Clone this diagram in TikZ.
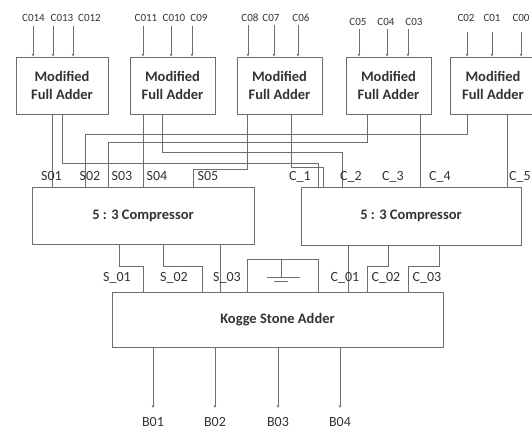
\documentclass[tikz,border=0pt]{standalone}
\usepackage{fontspec}
\setmainfont{Carlito}
\usetikzlibrary{arrows.meta}
\definecolor{wire}{HTML}{6E6E6E}
\definecolor{ink}{HTML}{333333}
\begin{document}
\begin{tikzpicture}[x=1pt,y=-1pt,
  wire/.style={draw=wire,line width=0.8pt},
  arr/.style={wire,-{Stealth[length=3pt,width=2.6pt]}},
  blk/.style={draw=wire,line width=0.9pt,inner sep=0pt,minimum height=57pt,align=center,
     text=ink,font=\fontsize{14.5}{18.5}\selectfont\bfseries},
  inlab/.style={inner sep=0pt,text=ink,font=\fontsize{11}{13}\selectfont},
  siglab/.style={inner sep=0pt,text=ink,font=\fontsize{14}{16}\selectfont},
  gndline/.style={draw=wire,line width=0.8pt}]
\useasboundingbox (0,0) rectangle (532,430);
\clip (0,0) rectangle (532,430);
\fill[white] (0,0) rectangle (532,430);

% full adders
\node[blk,minimum width=92pt] (fa1) at (62,85.5) {Modified\\Full Adder};
\node[blk,minimum width=85pt] (fa2) at (172.5,85.5) {Modified\\Full Adder};
\node[blk,minimum width=85pt] (fa3) at (279.5,85.5) {Modified\\Full Adder};
\node[blk,minimum width=85pt] (fa4) at (388.5,85.5) {Modified\\Full Adder};
\node[blk,minimum width=86pt] (fa5) at (493,85.5) {Modified\\Full Adder};

% compressors
\node[blk,minimum width=222pt] (cp1) at (143,215.5) {5 : 3 Compressor};
\node[blk,minimum width=220pt,minimum height=58pt] (cp2) at (411,216) {5 : 3 Compressor};

% kogge stone adder
\node[blk,minimum width=331pt,minimum height=55pt] (ksa) at (277.5,319.5) {Kogge Stone Adder};
\node[draw=wire,line width=0.8pt,inner sep=0pt,minimum width=71pt,minimum height=33pt] (gnd) at (282.5,275.5) {};

% input labels
\node[inlab] (l14) at (33.5,18) {C014};
\node[inlab] (l13) at (62,18) {C013};
\node[inlab] (l12) at (89.5,18) {C012};
\node[inlab] (l11) at (146,18) {C011};
\node[inlab] (l10) at (174,18) {C010};
\node[inlab] (l9) at (199,18) {C09};
\node[inlab] (l8) at (250,18) {C08};
\node[inlab] (l7) at (271,18) {C07};
\node[inlab] (l6) at (301,18) {C06};
\node[inlab] (l5) at (358,22) {C05};
\node[inlab] (l4) at (386,22) {C04};
\node[inlab] (l3) at (414,22) {C03};
\node[inlab] (l2) at (466,18) {C02};
\node[inlab] (l1) at (492,18) {C01};
\node[inlab] (l0) at (521,18) {C00};

% input arrows
\foreach \x/\y/\b in {33/26/fa1,53/26/fa1,73/26/fa1,
                      143/26/fa2,171/26/fa2,192/26/fa2,
                      248/25/fa3,274/25/fa3,298/25/fa3,
                      359/29/fa4,387/29/fa4,408/29/fa4,
                      467/32/fa5,492/32/fa5,521/32/fa5}{
  \coordinate (in) at (\x,\y);
  \draw[arr] (in) -- (in |- \b.north);
}

% sum / carry wiring
\draw[wire] (52,0 |- fa1.south) -- (52,0 |- cp1.north);
\draw[wire] (62,0 |- fa1.south) -- (62,163) -- (318,163) -- (318,0 |- cp2.north);
\draw[wire] (143,0 |- fa2.south) -- (143,0 |- cp1.north);
\draw[wire] (162,0 |- fa2.south) -- (162,152) -- (342,152) -- (342,0 |- cp2.north);
\draw[wire] (247,0 |- fa3.south) -- (247,169) -- (193,169) -- (193,0 |- cp1.north);
\draw[wire] (291,0 |- fa3.south) -- (291,167) -- (323,167) -- (323,0 |- cp2.north);
\draw[wire] (367,0 |- fa4.south) -- (367,142) -- (108,142) -- (108,0 |- cp1.north);
\draw[wire] (420,0 |- fa4.south) -- (420,0 |- cp2.north);
\draw[wire] (467,0 |- fa5.south) -- (467,134) -- (85,134) -- (85,0 |- cp1.north);
\draw[wire] (507,0 |- fa5.south) -- (507,0 |- cp2.north);

% compressor input labels
\node[siglab] (s01) at (51.5,176.5) {S01};
\node[siglab] (s02) at (90,176.5) {S02};
\node[siglab] (s03) at (122,176.5) {S03};
\node[siglab] (s04) at (157,176.5) {S04};
\node[siglab] (s05) at (208,176.5) {S05};
\node[siglab] (c1) at (300,176.5) {C\_1};
\node[siglab] (c2) at (351,176.5) {C\_2};
\node[siglab] (c3) at (393,176.5) {C\_3};
\node[siglab] (c4) at (440,176.5) {C\_4};
\node[siglab] (c5) at (520,176.5) {C\_5};

% compressor outputs
\draw[wire] (119,0 |- cp1.south) -- (119,266) -- (143,266) -- (143,0 |- ksa.north);
\draw[wire] (163,0 |- cp1.south) -- (163,266) -- (202,266) -- (202,0 |- ksa.north);
\draw[wire] (220,0 |- cp1.south) -- (220,0 |- ksa.north);
\draw[wire] (348,0 |- cp2.south) -- (348,0 |- ksa.north);
\draw[wire] (388,0 |- cp2.south) -- (388,266) -- (367,266) -- (367,0 |- ksa.north);
\draw[wire] (439,0 |- cp2.south) -- (439,266) -- (408,266) -- (408,0 |- ksa.north);

\node[siglab] (so1) at (117,278) {S\_01};
\node[siglab] (so2) at (174,278) {S\_02};
\node[siglab] (so3) at (227,278) {S\_03};
\node[siglab] (co1) at (345,278) {C\_01};
\node[siglab] (co2) at (386,278) {C\_02};
\node[siglab] (co3) at (427,278) {C\_03};

% ground symbol
\coordinate (gtop) at (281,0 |- gnd.north);
\coordinate (gmid) at (281,277);
\draw[gndline] (gtop) -- (gmid);
\draw[gndline] ([xshift=-14pt]gmid) -- ([xshift=19pt]gmid);
\draw[gndline] ([xshift=-7pt,yshift=-4pt]gmid) -- ([xshift=7pt,yshift=-4pt]gmid);

% outputs
\foreach \x/\t/\n in {153/B01/b1,215/B02/b2,278/B03/b3,340/B04/b4}{
  \node[siglab] (\n) at (\x,422) {\t};
  \coordinate (o\n) at (\x,408);
  \draw[arr] (o\n |- ksa.south) -- (o\n);
}
\end{tikzpicture}
\end{document}
